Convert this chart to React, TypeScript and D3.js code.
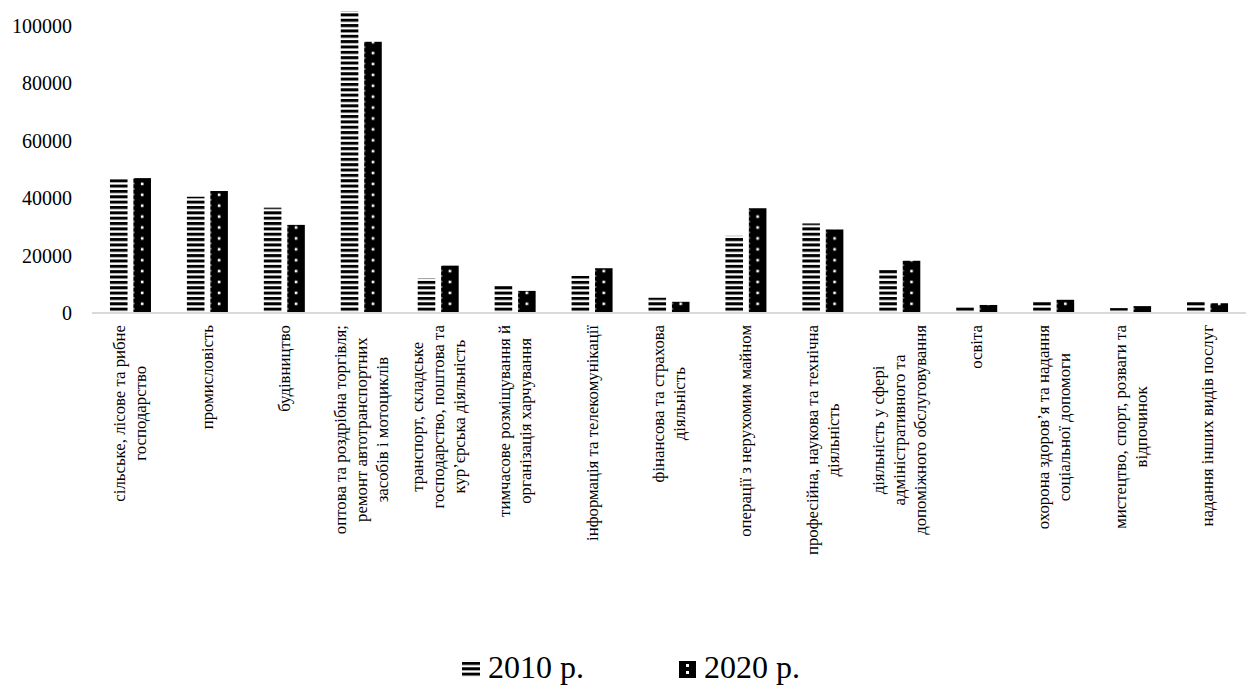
import React, { useMemo } from "react";
import * as d3 from "d3";

const categories: string[][] = [
  ["сільське, лісове та рибне", "господарство"],
  ["промисловість"],
  ["будівництво"],
  ["оптова та роздрібна торгівля;", "ремонт автотранспортних", "засобів і мотоциклів"],
  ["транспорт, складське", "господарство, поштова та", "кур’єрська діяльність"],
  ["тимчасове розміщування й", "організація харчування"],
  ["інформація та телекомунікації"],
  ["фінансова та страхова", "діяльність"],
  ["операції з нерухомим майном"],
  ["професійна, наукова та технічна", "діяльність"],
  ["діяльність у сфері", "адміністративного та", "допоміжного обслуговування"],
  ["освіта"],
  ["охорона здоров’я та надання", "соціальної допомоги"],
  ["мистецтво, спорт, розваги та", "відпочинок"],
  ["надання інших видів послуг"],
];

const values2010: number[] = [46600, 40500, 36700, 105200, 12100, 9500, 12900, 5300, 26900, 31200, 15200, 2200, 4000, 1700, 3900];
const values2020: number[] = [47000, 42500, 30700, 94500, 16500, 7700, 15600, 3900, 36500, 29100, 18200, 2800, 4600, 2400, 3400];

const seriesNames: string[] = ["2010 р.", "2020 р."];
const yTicks: number[] = [0, 20000, 40000, 60000, 80000, 100000];

const W = 1248;
const H = 688;
const FAM = "Times New Roman";
const LABEL_SIZE = 16.8;
const TICK_SIZE = 20;

function T(props: any) {
  const { children, ...rest } = props;
  return (
    <text {...rest} fontFamily={`"${FAM}"`} style={{ fontFamily: `"${FAM}"` }}>
      {children}
    </text>
  );
}

export default function App() {
  const x0 = d3.scaleBand<number>().domain(d3.range(categories.length)).range([92, 1246]).paddingInner(0);
  const x1 = d3.scaleBand<number>().domain([0, 1]).range([-20.5, 20.5]).paddingInner(0.25);
  const y = d3.scaleLinear().domain([0, 100000]).range([313, 26]);
  const base = y(0);
  const step = x0.step();
  const bw = x1.bandwidth();

  const widths = useMemo(() => {
    const c = document.createElement("canvas").getContext("2d")!;
    c.font = `${LABEL_SIZE}px "Liberation Serif"`;
    return categories.map((lines) => Math.max(...lines.map((l) => c.measureText(l).width)));
  }, []);

  const series = [values2010, values2020];
  const dotX = step / 2 + (x1(1) as number) + bw / 2;

  return (
    <svg width={W} height={H} style={{ position: "absolute", left: 0, top: 0, background: "#fff" }}>
      <defs>
        <pattern id="p2010" patternUnits="userSpaceOnUse" width={8} height={5.35} y={base}>
          <rect x={0} y={0} width={8} height={3} fill="#000" />
        </pattern>
        <pattern id="p2020" patternUnits="userSpaceOnUse" width={step} height={10.9} x={x0(0)} y={base - 2.2}>
          <rect x={0} y={0} width={step} height={10.9} fill="#000" />
          <rect x={dotX - 1.3} y={2.6} width={2.6} height={2.6} fill="#fff" />
          <rect x={step / 2 + (x1(1) as number)} y={2.6} width={0.9} height={1.8} fill="#fff" />
          <rect x={step / 2 + (x1(1) as number)} y={8} width={0.9} height={1.8} fill="#fff" />
        </pattern>
        <pattern id="l2010" patternUnits="userSpaceOnUse" width={4} height={5.35} x={0} y={678}>
          <rect x={0} y={0} width={4} height={3} fill="#000" />
        </pattern>
      </defs>

      {yTicks.map((t) => (
        <T key={t} x={72} y={y(t)} textAnchor="end" dominantBaseline="central" fontSize={TICK_SIZE} fill="#000">
          {String(t)}
        </T>
      ))}

      {categories.map((_, i) =>
        series.map((vals, s) => {
          const cx = (x0(i) as number) + step / 2;
          const bx = cx + (x1(s) as number);
          const top = y(vals[i]);
          return (
            <rect
              key={`${i}-${s}`}
              x={bx}
              y={top}
              width={bw}
              height={base - top}
              fill={s === 0 ? "url(#p2010)" : "url(#p2020)"}
            />
          );
        })
      )}

      <line x1={x0.range()[0]} x2={x0.range()[1]} y1={base} y2={base} stroke="#d9d9d9" strokeWidth={2} />

      {categories.map((lines, i) => {
        const cx = (x0(i) as number) + step / 2;
        const n = lines.length;
        const lh = 21;
        return (
          <g key={i} transform={`translate(${cx},325) rotate(-90)`}>
            {lines.map((l, j) => (
              <T
                key={j}
                x={-widths[i] / 2}
                y={(j - (n - 1) / 2) * lh}
                textAnchor="middle"
                dominantBaseline="central"
                fontSize={LABEL_SIZE}
                fill="#000"
              >
                {l}
              </T>
            ))}
          </g>
        );
      })}

      <g>
        <rect x={462} y={660} width={18} height={18} fill="url(#l2010)" />
        <T x={488} y={678} fontSize={32} fill="#000">{seriesNames[0]}</T>
        <rect x={679} y={661} width={17} height={17} fill="#000" />
        <rect x={686} y={664} width={3} height={3} fill="#fff" />
        <rect x={686} y={671} width={3} height={3} fill="#fff" />
        <T x={704} y={678} fontSize={32} fill="#000">{seriesNames[1]}</T>
      </g>
    </svg>
  );
}
